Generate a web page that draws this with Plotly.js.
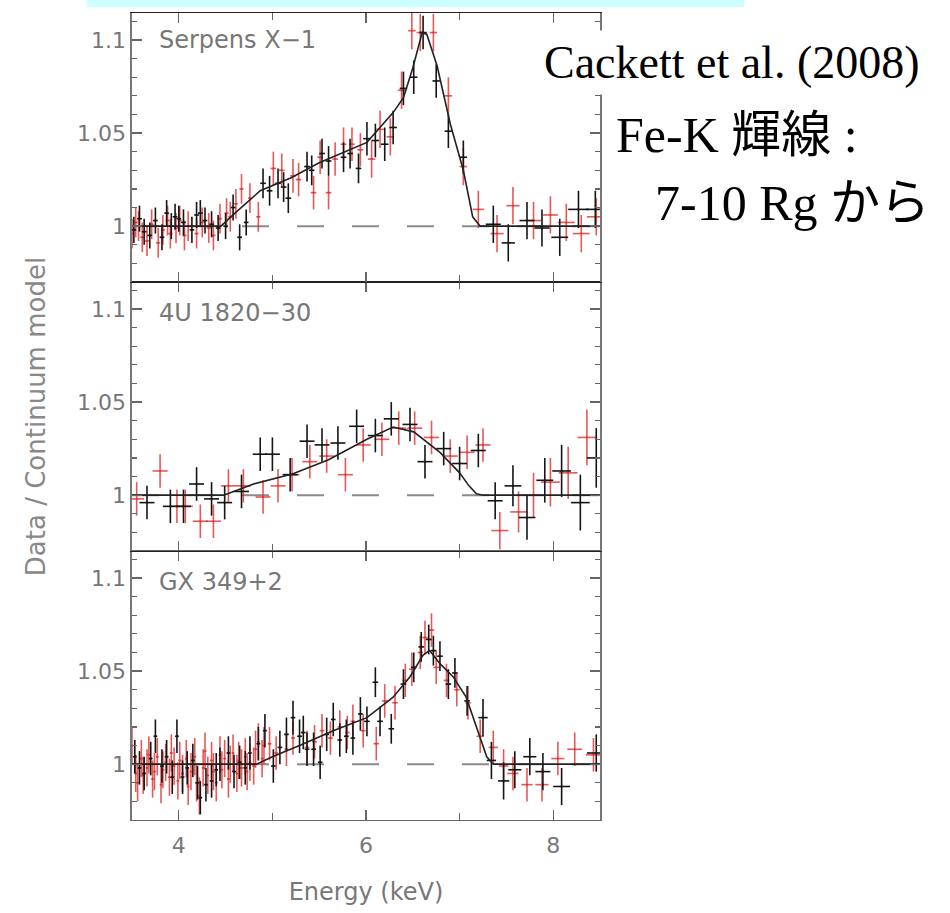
<!DOCTYPE html>
<html>
<head>
<meta charset="utf-8">
<script src="https://cdn.plot.ly/plotly-3.0.1.min.js"></script>
<style>html,body{margin:0;padding:0;background:#fff;}#chart{width:950px;height:913px;}</style>
</head>
<body>
<div id="chart"></div>
<script>
// ---------- Panel names ----------
const PANEL_NAMES = ['Serpens X\u22121', '4U 1820\u221230', 'GX 349+2'];

// ---------- Axis ticks ----------
const XTICKS = [4, 6, 8];
const XTICKTEXT = ['4', '6', '8'];
const XMINOR = [5, 7];
const YTICKS = [1, 1.05, 1.1];
const YTICKTEXT = ['1', '1.05', '1.1'];

// ---------- Serpens X-1 (top) ----------
const SER_BK_E = [3.52,3.58,3.63,3.69,3.75,3.82,3.87,3.92,3.96,4.00,4.05,4.14,4.19,4.23,4.28,4.35,4.42,4.50,4.58,4.65,4.72,4.90,4.97,5.06,5.12,5.17,5.37,5.42,5.53,5.60,5.76,5.83,5.92,6.01,6.10,6.20,6.29,6.40,6.51,6.61,6.75,6.88,7.04,7.36,7.52,7.72,7.88,8.07,8.27,8.45];
const SER_BK_V = [0.998,1.004,0.997,0.995,1.003,0.994,1.007,1.000,1.005,1.004,1.002,0.998,1.006,1.007,1.003,1.001,0.999,1.000,1.010,0.994,1.002,1.023,1.019,1.023,1.021,1.015,1.032,1.030,1.039,1.035,1.037,1.039,1.031,1.047,1.046,1.044,1.053,1.074,1.080,1.104,1.078,1.051,1.037,1.001,0.991,1.003,0.999,0.994,1.009,1.009];
const SER_BK_EX = [0.025,0.025,0.025,0.025,0.025,0.025,0.025,0.025,0.025,0.025,0.025,0.025,0.025,0.025,0.025,0.025,0.025,0.025,0.025,0.025,0.025,0.03,0.03,0.03,0.03,0.03,0.03,0.03,0.03,0.03,0.03,0.03,0.03,0.04,0.04,0.04,0.04,0.04,0.04,0.04,0.04,0.04,0.04,0.08,0.07,0.08,0.08,0.09,0.11,0.1];
const SER_BK_EY = [0.007,0.007,0.007,0.007,0.007,0.007,0.007,0.007,0.007,0.007,0.007,0.007,0.007,0.007,0.007,0.007,0.007,0.007,0.007,0.007,0.007,0.008,0.008,0.008,0.008,0.008,0.008,0.008,0.008,0.008,0.008,0.008,0.008,0.009,0.009,0.009,0.009,0.009,0.009,0.009,0.009,0.009,0.009,0.01,0.01,0.01,0.01,0.01,0.01,0.01];
const SER_RD_E = [3.50,3.54,3.57,3.61,3.66,3.71,3.78,3.83,3.88,3.91,3.97,4.01,4.06,4.10,4.19,4.25,4.32,4.37,4.44,4.51,4.55,4.61,4.67,4.76,4.85,5.01,5.10,5.22,5.28,5.44,5.51,5.60,5.67,5.76,5.85,5.94,6.06,6.15,6.26,6.38,6.49,6.58,6.72,6.88,7.04,7.20,7.40,7.57,7.79,7.97,8.14,8.30,8.46];
const SER_RD_V = [0.996,1.002,1.000,0.994,0.992,1.001,0.991,0.998,1.003,0.996,0.999,1.003,0.995,1.000,0.996,1.002,0.999,0.995,1.004,1.007,1.005,1.012,1.020,1.015,1.005,1.031,1.030,1.027,1.025,1.018,1.037,1.018,1.036,1.044,1.044,1.041,1.036,1.052,1.048,1.073,1.105,1.104,1.104,1.070,1.032,1.009,0.996,1.011,1.003,1.006,1.002,0.996,1.005];
const SER_RD_EX = [0.022,0.022,0.022,0.022,0.022,0.022,0.022,0.022,0.022,0.022,0.022,0.022,0.022,0.022,0.022,0.022,0.022,0.022,0.022,0.022,0.022,0.022,0.022,0.022,0.022,0.03,0.03,0.03,0.03,0.03,0.03,0.03,0.03,0.03,0.03,0.03,0.04,0.04,0.04,0.04,0.04,0.04,0.04,0.04,0.04,0.06,0.07,0.07,0.08,0.08,0.09,0.09,0.1];
const SER_RD_EY = [0.008,0.008,0.008,0.008,0.008,0.008,0.008,0.008,0.008,0.008,0.008,0.008,0.008,0.008,0.008,0.008,0.008,0.008,0.008,0.008,0.008,0.008,0.008,0.008,0.008,0.009,0.009,0.009,0.009,0.009,0.009,0.009,0.009,0.009,0.009,0.009,0.01,0.01,0.01,0.01,0.01,0.01,0.01,0.01,0.01,0.01,0.01,0.01,0.01,0.01,0.01,0.01,0.01];
const SER_MOD_E = [3.5,4.45,4.6,4.87,5.2,5.5,6.01,6.29,6.40,6.5,6.60,6.65,6.76,6.90,7.04,7.14,7.22,8.5];
const SER_MOD_V = [1.0,1.0,1.007,1.019,1.026,1.034,1.045,1.061,1.069,1.085,1.104,1.103,1.086,1.055,1.030,1.005,1.0,1.0];

// ---------- 4U 1820-30 (middle) ----------
const U18_BK_E = [3.66,3.91,4.05,4.19,4.35,4.49,4.67,4.87,5.00,5.19,5.37,5.53,5.70,5.90,6.10,6.27,6.47,6.63,6.83,7.00,7.20,7.38,7.57,7.72,7.91,8.09,8.29,8.46];
const U18_BK_V = [0.996,0.994,0.994,1.006,0.998,0.996,1.002,1.022,1.022,1.011,1.029,1.027,1.028,1.037,1.032,1.041,1.038,1.018,1.025,1.017,1.024,0.997,1.005,0.988,1.008,1.013,0.996,1.020];
const U18_BK_EX = [0.08,0.08,0.08,0.08,0.08,0.08,0.08,0.08,0.08,0.08,0.08,0.08,0.08,0.08,0.08,0.08,0.08,0.08,0.08,0.08,0.08,0.08,0.09,0.09,0.09,0.1,0.1,0.1];
const U18_BK_EY = [0.009,0.009,0.009,0.009,0.009,0.009,0.009,0.009,0.009,0.009,0.009,0.009,0.009,0.009,0.009,0.009,0.009,0.009,0.009,0.009,0.009,0.01,0.011,0.012,0.012,0.014,0.015,0.016];
const U18_RD_E = [3.55,3.80,3.98,4.07,4.23,4.37,4.53,4.69,4.90,5.06,5.21,5.40,5.58,5.78,5.97,6.17,6.35,6.52,6.70,6.90,7.08,7.25,7.43,7.63,7.79,7.97,8.16,8.36];
const U18_RD_V = [0.998,1.013,0.994,0.994,0.986,0.986,1.005,1.005,0.999,1.005,1.011,1.018,1.021,1.011,1.027,1.030,1.036,1.036,1.031,1.021,1.023,1.027,0.981,0.991,1.000,1.007,1.012,1.031];
const U18_RD_EX = [0.08,0.08,0.08,0.08,0.08,0.08,0.08,0.08,0.08,0.08,0.08,0.08,0.08,0.08,0.08,0.08,0.08,0.08,0.08,0.08,0.08,0.08,0.09,0.09,0.09,0.1,0.1,0.1];
const U18_RD_EY = [0.009,0.009,0.009,0.009,0.009,0.009,0.009,0.009,0.009,0.009,0.009,0.009,0.009,0.009,0.009,0.009,0.009,0.009,0.009,0.009,0.009,0.009,0.01,0.011,0.012,0.013,0.014,0.015];
const U18_MOD_E = [3.5,4.48,4.8,5.22,5.6,6.01,6.29,6.51,6.79,7.0,7.1,7.18,7.25,8.5];
const U18_MOD_V = [1.0,1.0,1.006,1.0115,1.019,1.030,1.0366,1.034,1.023,1.012,1.005,1.0007,1.0,1.0];

// ---------- GX 349+2 (bottom) ----------
const GX_BK_E = [3.53,3.58,3.63,3.70,3.75,3.82,3.87,3.93,3.98,4.04,4.09,4.15,4.20,4.23,4.29,4.35,4.40,4.44,4.53,4.59,4.65,4.71,4.76,4.85,4.92,5.01,5.08,5.15,5.22,5.29,5.33,5.37,5.44,5.51,5.58,5.65,5.72,5.79,5.86,5.94,6.01,6.10,6.15,6.27,6.40,6.51,6.59,6.67,6.72,6.79,6.88,6.95,7.08,7.25,7.34,7.47,7.59,7.75,7.89,8.09,8.46];
const GX_BK_V = [1.004,0.998,0.995,1.003,1.015,0.999,1.004,0.993,1.015,0.993,0.998,1.002,0.990,0.982,0.989,0.991,0.997,1.000,1.006,0.996,1.001,0.998,1.006,1.011,1.018,0.999,1.009,1.016,1.025,1.015,1.017,1.008,1.008,1.001,1.016,1.024,1.013,1.015,1.014,1.027,1.023,1.044,1.023,1.019,1.043,1.052,1.063,1.067,1.061,1.058,1.043,1.049,1.034,1.025,1.002,0.991,0.997,1.004,0.996,0.988,1.006];
const GX_BK_EX = [0.02,0.02,0.02,0.02,0.02,0.02,0.02,0.02,0.02,0.02,0.02,0.02,0.02,0.02,0.02,0.02,0.02,0.02,0.02,0.02,0.02,0.02,0.02,0.02,0.02,0.025,0.025,0.025,0.025,0.025,0.025,0.025,0.025,0.025,0.025,0.025,0.025,0.025,0.025,0.025,0.03,0.03,0.03,0.03,0.03,0.03,0.03,0.03,0.03,0.03,0.03,0.03,0.03,0.05,0.05,0.06,0.07,0.07,0.08,0.09,0.1];
const GX_BK_EY = [0.009,0.009,0.009,0.009,0.009,0.009,0.009,0.009,0.009,0.009,0.009,0.009,0.009,0.009,0.009,0.009,0.009,0.009,0.009,0.009,0.009,0.009,0.009,0.009,0.009,0.009,0.009,0.009,0.009,0.009,0.009,0.009,0.009,0.009,0.009,0.009,0.009,0.009,0.009,0.009,0.008,0.008,0.008,0.008,0.008,0.008,0.008,0.008,0.008,0.008,0.008,0.008,0.008,0.01,0.01,0.01,0.01,0.01,0.01,0.01,0.01];
const GX_RD_E = [3.50,3.54,3.56,3.60,3.62,3.66,3.68,3.72,3.74,3.77,3.81,3.83,3.86,3.90,3.92,3.95,3.99,4.01,4.04,4.08,4.10,4.13,4.17,4.19,4.22,4.26,4.28,4.31,4.35,4.37,4.40,4.44,4.46,4.49,4.53,4.55,4.58,4.62,4.64,4.67,4.71,4.73,4.76,4.80,4.82,4.85,4.89,4.91,4.97,5.04,5.15,5.22,5.37,5.45,5.53,5.62,5.72,5.80,5.86,5.97,6.11,6.20,6.31,6.42,6.49,6.58,6.63,6.70,6.75,6.86,6.97,7.09,7.22,7.36,7.47,7.57,7.72,7.88,8.05,8.23,8.43];
const GX_RD_V = [1.010,0.995,0.990,1.003,0.994,0.998,1.005,0.992,0.996,1.004,0.989,0.997,1.001,0.993,1.006,0.999,0.991,1.002,0.995,1.003,0.988,0.996,1.004,0.990,0.983,0.998,1.007,0.994,1.002,0.996,0.990,1.005,0.997,1.003,0.992,1.000,1.006,0.995,1.002,0.998,1.004,0.996,1.001,0.999,1.008,1.012,1.003,1.010,1.011,1.006,1.008,1.014,1.009,1.012,1.018,1.014,1.020,1.017,1.023,1.018,1.011,1.034,1.033,1.045,1.051,1.060,1.068,1.072,1.052,1.045,1.040,1.033,1.015,1.009,0.999,0.995,0.989,0.989,1.003,1.008,1.005];
const GX_RD_EX = [0.015,0.015,0.015,0.015,0.015,0.015,0.015,0.015,0.015,0.015,0.015,0.015,0.015,0.015,0.015,0.015,0.015,0.015,0.015,0.015,0.015,0.015,0.015,0.015,0.015,0.015,0.015,0.015,0.015,0.015,0.015,0.015,0.015,0.015,0.015,0.015,0.015,0.015,0.015,0.015,0.015,0.015,0.015,0.015,0.015,0.015,0.015,0.015,0.02,0.02,0.02,0.02,0.025,0.025,0.025,0.025,0.025,0.025,0.025,0.025,0.03,0.03,0.03,0.03,0.03,0.03,0.03,0.03,0.03,0.03,0.03,0.03,0.04,0.05,0.05,0.06,0.06,0.07,0.07,0.08,0.08];
const GX_RD_EY = [0.01,0.01,0.01,0.01,0.01,0.01,0.01,0.01,0.01,0.01,0.01,0.01,0.01,0.01,0.01,0.01,0.01,0.01,0.01,0.01,0.01,0.01,0.01,0.01,0.01,0.01,0.01,0.01,0.01,0.01,0.01,0.01,0.01,0.01,0.01,0.01,0.01,0.01,0.01,0.01,0.01,0.01,0.01,0.01,0.01,0.01,0.01,0.01,0.009,0.009,0.009,0.009,0.009,0.009,0.009,0.009,0.009,0.009,0.009,0.009,0.009,0.009,0.009,0.009,0.009,0.009,0.009,0.009,0.009,0.009,0.009,0.009,0.009,0.009,0.009,0.009,0.009,0.009,0.009,0.009,0.009];
const GX_MOD_E = [3.5,4.83,5.0,5.29,5.65,6.01,6.29,6.47,6.61,6.68,6.79,6.93,7.07,7.18,7.29,7.36,8.5];
const GX_MOD_V = [1.0,1.0,1.004,1.010,1.018,1.025,1.036,1.047,1.0586,1.061,1.054,1.047,1.036,1.020,1.004,1.0,1.0];

const BASE_E = [3.5, 8.5];
const BASE_V = [1, 1];

// ---------- Styles ----------
const RED = 'rgba(228,45,45,0.8)';
const BLACK = '#151515';
const AXFONT = 'DejaVu Sans, Liberation Sans, sans-serif';
const GREY_TXT = '#777';

function dataTrace(E, V, EX, EY, color, xa, ya) {
  return {
    type: 'scatter', mode: 'markers', x: E, y: V, xaxis: xa, yaxis: ya,
    marker: {size: 2, color: color},
    error_x: {type: 'data', array: EX, visible: true, thickness: 1.6, width: 0, color: color},
    error_y: {type: 'data', array: EY, visible: true, thickness: 1.6, width: 0, color: color},
    hoverinfo: 'skip'
  };
}
function lineTrace(E, V, xa, ya, style) {
  return {type: 'scatter', mode: 'lines', x: E, y: V, xaxis: xa, yaxis: ya, line: style, hoverinfo: 'skip'};
}

const dashStyle = {color: '#8a8a8a', width: 2, dash: '27px,28px'};
const modStyle = {color: '#222', width: 1.6};

const panels = [
  {xa: 'x3', ya: 'y3', bk: [SER_BK_E, SER_BK_V, SER_BK_EX, SER_BK_EY], rd: [SER_RD_E, SER_RD_V, SER_RD_EX, SER_RD_EY], mod: [SER_MOD_E, SER_MOD_V]},
  {xa: 'x2', ya: 'y2', bk: [U18_BK_E, U18_BK_V, U18_BK_EX, U18_BK_EY], rd: [U18_RD_E, U18_RD_V, U18_RD_EX, U18_RD_EY], mod: [U18_MOD_E, U18_MOD_V]},
  {xa: 'x', ya: 'y', bk: [GX_BK_E, GX_BK_V, GX_BK_EX, GX_BK_EY], rd: [GX_RD_E, GX_RD_V, GX_RD_EX, GX_RD_EY], mod: [GX_MOD_E, GX_MOD_V]}
];

const traces = [];
panels.forEach(p => {
  traces.push(lineTrace(BASE_E, BASE_V, p.xa, p.ya, dashStyle));
  traces.push(dataTrace(p.rd[0], p.rd[1], p.rd[2], p.rd[3], RED, p.xa, p.ya));
  traces.push(dataTrace(p.bk[0], p.bk[1], p.bk[2], p.bk[3], BLACK, p.xa, p.ya));
  traces.push(lineTrace(p.mod[0], p.mod[1], p.xa, p.ya, modStyle));
});

function xAxis(anchor, withLabels) {
  const a = {
    anchor: anchor, domain: [0, 1], range: [3.5, 8.5],
    tickmode: 'array', tickvals: XTICKS, ticktext: XTICKTEXT,
    ticks: 'inside', ticklen: 10, tickwidth: 1.3, tickcolor: '#666',
    minor: {tickmode: 'array', tickvals: XMINOR, ticks: 'inside', ticklen: 7, tickwidth: 1.3, tickcolor: '#666'},
    mirror: 'ticks', showline: true, linecolor: anchor === 'y' ? '#666' : '#222', linewidth: 1.3,
    showgrid: false, zeroline: false,
    showticklabels: withLabels,
    tickfont: {family: AXFONT, size: 22, color: GREY_TXT}
  };
  if (anchor !== 'y') a.matches = 'x';
  return a;
}
function yAxis(domain) {
  return {
    domain: domain, range: [0.97, 1.1145],
    tickmode: 'array', tickvals: YTICKS, ticktext: YTICKTEXT,
    ticks: 'inside', ticklen: 10, tickwidth: 1.3, tickcolor: '#666',
    minor: {dtick: 0.01, tick0: 0, ticks: 'inside', ticklen: 5, tickwidth: 1.2, tickcolor: '#666'},
    mirror: 'ticks', showline: true, linecolor: '#777', linewidth: 1.6,
    showgrid: false, zeroline: false,
    tickfont: {family: AXFONT, size: 22, color: GREY_TXT}
  };
}

const xa1 = xAxis('y', true);
xa1.title = {text: 'Energy (keV)', font: {family: AXFONT, size: 24, color: GREY_TXT}, standoff: 26};
xa1.ticklabelstandoff = 5;
const ya2 = yAxis([0.3333, 0.6667]);
ya2.title = {text: 'Data / Continuum model', font: {family: AXFONT, size: 26, color: '#888'}, standoff: 24};

const layout = {
  width: 950, height: 913,
  margin: {l: 132, r: 350, t: 13, b: 93, pad: 0},
  paper_bgcolor: '#fff', plot_bgcolor: '#fff',
  showlegend: false,
  xaxis: xa1,
  xaxis2: xAxis('y2', false),
  xaxis3: xAxis('y3', false),
  yaxis: yAxis([0, 0.3333]),
  yaxis2: ya2,
  yaxis3: yAxis([0.6667, 1]),
  shapes: [
    {type: 'rect', xref: 'paper', yref: 'paper', x0: -0.096, x1: 1.308, y0: 1.0074, y1: 1.03,
     fillcolor: '#ccffff', line: {width: 0}, layer: 'below'}
  ],
  annotations: [
    {xref: 'x3 domain', yref: 'y3 domain', x: 0.053, y: 0.898, xanchor: 'left', yanchor: 'middle', showarrow: false,
     text: PANEL_NAMES[0], font: {family: AXFONT, size: 24, color: GREY_TXT}},
    {xref: 'x2 domain', yref: 'y2 domain', x: 0.053, y: 0.884, xanchor: 'left', yanchor: 'middle', showarrow: false,
     text: PANEL_NAMES[1], font: {family: AXFONT, size: 24, color: GREY_TXT}},
    {xref: 'x domain', yref: 'y domain', x: 0.053, y: 0.885, xanchor: 'left', yanchor: 'middle', showarrow: false,
     text: PANEL_NAMES[2], font: {family: AXFONT, size: 24, color: GREY_TXT}},
    {xref: 'paper', yref: 'paper', x: 0.8645, y: 0.9385, xanchor: 'left', yanchor: 'middle', showarrow: false,
     text: 'Cackett et al. (2008)', bgcolor: '#fff', borderpad: 6,
     font: {family: 'Liberation Serif, Times New Roman, serif', size: 46, color: '#000'}},
    {xref: 'paper', yref: 'paper', x: 1.0299, y: 0.849, xanchor: 'left', yanchor: 'middle', showarrow: false,
     text: 'Fe-K 輝線 :',
     font: {family: 'Liberation Serif, Noto Sans CJK JP, serif', size: 50, color: '#000'}},
    {xref: 'paper', yref: 'paper', x: 1.1132, y: 0.765, xanchor: 'left', yanchor: 'middle', showarrow: false,
     text: '7-10 Rg から',
     font: {family: 'Liberation Serif, Noto Sans CJK JP, serif', size: 50, color: '#000'}}
  ]
};

Plotly.newPlot('chart', traces, layout, {displayModeBar: false, staticPlot: true});
</script>
</body>
</html>
